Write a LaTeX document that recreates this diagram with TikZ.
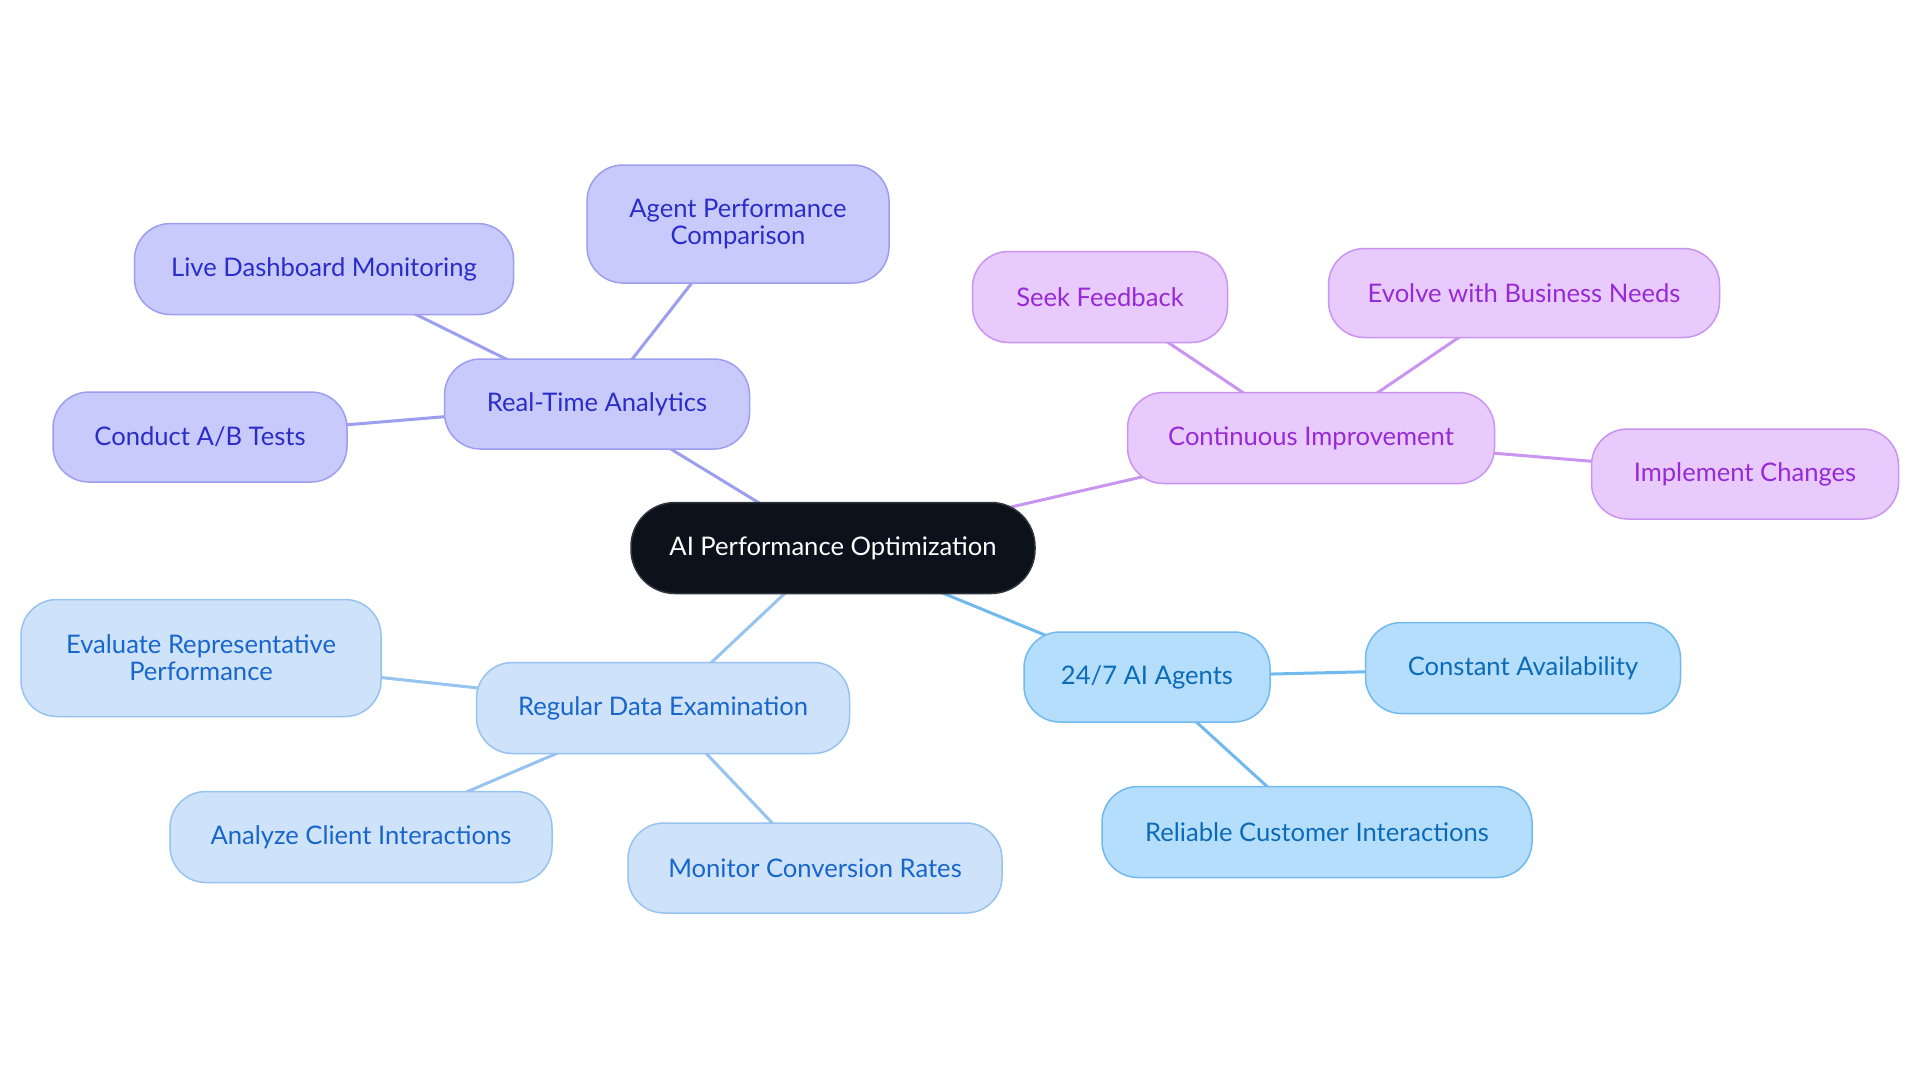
\documentclass[tikz,border=0pt]{standalone}
\usepackage{fontspec}
\setmainfont{Lato}
\usetikzlibrary{backgrounds}
\definecolor{hubfill}{HTML}{0C121C}
\definecolor{hubdraw}{HTML}{30353D}
\definecolor{rtfill}{HTML}{C9CAFC}
\definecolor{rtdraw}{HTML}{9C9EF0}
\definecolor{rttext}{HTML}{2A2DC8}
\definecolor{cifill}{HTML}{E8CAFC}
\definecolor{cidraw}{HTML}{C995F0}
\definecolor{citext}{HTML}{962AD6}
\definecolor{agfill}{HTML}{B4DEFC}
\definecolor{agdraw}{HTML}{70BAEE}
\definecolor{agtext}{HTML}{0B6BB8}
\definecolor{rdfill}{HTML}{CEE3FA}
\definecolor{rddraw}{HTML}{96C3F0}
\definecolor{rdtext}{HTML}{1866CC}
\begin{document}
\begin{tikzpicture}[x=0.5pt,y=-0.5pt,
  base/.style={rounded corners=18pt, line width=0.75pt, align=center, inner sep=0pt,
    font=\fontsize{12.8}{13.6}\selectfont},
  hub/.style={base, rounded corners=22pt, fill=hubfill, draw=hubdraw, text=white},
  rtbox/.style={base, fill=rtfill, draw=rtdraw, text=rttext},
  cibox/.style={base, fill=cifill, draw=cidraw, text=citext},
  agbox/.style={base, fill=agfill, draw=agdraw, text=agtext},
  rdbox/.style={base, fill=rdfill, draw=rddraw, text=rdtext},
  link/.style={line width=1.5pt},
  rtlink/.style={link, draw=rtdraw},
  cilink/.style={link, draw=cidraw},
  aglink/.style={link, draw=agdraw},
  rdlink/.style={link, draw=rddraw}]
\useasboundingbox (0,0) rectangle (1920,1083);
% hub
\node[hub, minimum width=202pt, minimum height=45.5pt] (hub) at (833,548) {AI Performance Optimization};
% Real-Time Analytics
\node[rtbox, minimum width=152.5pt, minimum height=45pt] (rta) at (597,404) {Real-Time Analytics};
\node[rtbox, minimum width=151pt, minimum height=59pt] (apc) at (738,224) {Agent Performance\\Comparison};
\node[rtbox, minimum width=189.5pt, minimum height=45.5pt] (ldm) at (324,269) {Live Dashboard Monitoring};
\node[rtbox, minimum width=147pt, minimum height=45pt] (cab) at (200,437) {Conduct A/B Tests};
% Continuous Improvement
\node[cibox, minimum width=183.5pt, minimum height=45.5pt] (ci) at (1311,438) {Continuous Improvement};
\node[cibox, minimum width=127.5pt, minimum height=45.5pt] (sf) at (1100,297) {Seek Feedback};
\node[cibox, minimum width=195.5pt, minimum height=44.5pt] (ebn) at (1524,293) {Evolve with Business Needs};
\node[cibox, minimum width=153.5pt, minimum height=45pt] (ic) at (1745,474) {Implement Changes};
% 24/7 AI Agents
\node[agbox, minimum width=123pt, minimum height=45pt] (ag) at (1147,677) {24/7 AI Agents};
\node[agbox, minimum width=157.5pt, minimum height=45.5pt] (ca) at (1523,668) {Constant Availability};
\node[agbox, minimum width=215pt, minimum height=45.5pt] (rci) at (1317,832) {Reliable Customer Interactions};
% Regular Data Examination
\node[rdbox, minimum width=186.5pt, minimum height=45.5pt] (rde) at (663,708) {Regular Data Examination};
\node[rdbox, minimum width=180pt, minimum height=58.5pt] (erp) at (201,658) {Evaluate Representative\\Performance};
\node[rdbox, minimum width=191pt, minimum height=45.5pt] (aci) at (361,837) {Analyze Client Interactions};
\node[rdbox, minimum width=187pt, minimum height=45pt] (mcr) at (815,868) {Monitor Conversion Rates};
\begin{scope}[on background layer]
  \fill[white] (0,0) rectangle (1920,1083);
  \draw[rtlink] (hub.center) -- (rta.center);
  \draw[rtlink] (rta.center) -- (apc.center);
  \draw[rtlink] (rta.center) -- (ldm.center);
  \draw[rtlink] (rta.center) -- (cab.center);
  \draw[cilink] (hub.center) -- (ci.center);
  \draw[cilink] (ci.center) -- (sf.center);
  \draw[cilink] (ci.center) -- (ebn.center);
  \draw[cilink] (ci.center) -- (ic.center);
  \draw[aglink] (hub.center) -- (ag.center);
  \draw[aglink] (ag.center) -- (ca.center);
  \draw[aglink] (ag.center) -- (rci.center);
  \draw[rdlink] (hub.center) -- (rde.center);
  \draw[rdlink] (rde.center) -- (erp.center);
  \draw[rdlink] (rde.center) -- (aci.center);
  \draw[rdlink] (rde.center) -- (mcr.center);
\end{scope}
\end{tikzpicture}
\end{document}
